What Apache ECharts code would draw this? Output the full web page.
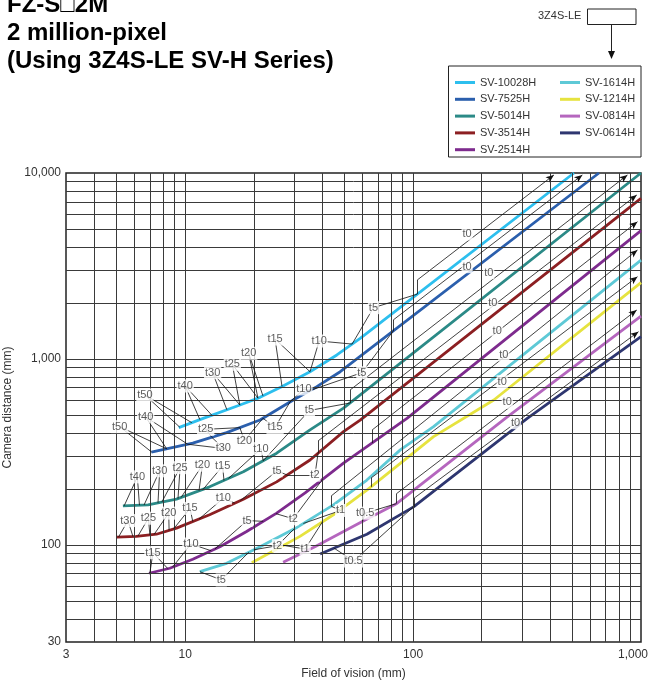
<!DOCTYPE html>
<html><head><meta charset="utf-8">
<script src="https://cdn.jsdelivr.net/npm/echarts@6/dist/echarts.min.js"></script>
<style>html,body{margin:0;padding:0;background:#fff}#c{width:649px;height:682px}</style>
</head><body><div id="c"></div>
<script>
// ---- data (field of vision mm, camera distance mm) ----
const lensNames = ['SV-10028H','SV-7525H','SV-5014H','SV-3514H','SV-2514H','SV-1614H','SV-1214H','SV-0814H','SV-0614H'];
const lensColors = ['#2dbfee','#2b5fad','#2b8a87','#8c1f22','#7e2b8e','#5ec9d6','#e6e33f','#b566be','#2e3670'];
const sv10028h = [[9.37,427],[12.0,479],[17.4,565],[21.3,621],[26.5,709],[35.3,853],[46.3,1050],[58.6,1291],[508,10000]];
const sv7525h  = [[7.11,315],[10.8,352],[15.2,401],[21.3,469],[29.8,601],[37.8,709],[47.9,853],[654,10000]];
const sv5014h  = [[5.33,162],[6.87,164],[9.16,176],[12.8,205],[18.0,247],[25.2,311],[35.3,415],[49.5,543],[1000,10000]];
const sv3514h  = [[5.02,110],[6.10,111],[7.48,114],[9.16,123],[12.8,145],[18.0,176],[25.2,218],[35.3,286],[49.5,406],[58.6,469],[1000,7300]];
const sv2514h  = [[6.94,70.3],[8.56,74.8],[10.8,83.6],[14.2,97.7],[18.6,118],[25.2,148],[33.6,190],[49.5,275],[94,479],[1000,4900]];
const sv1614h  = [[11.6,71.7],[15.2,79.5],[21.3,97.7],[30.6,123],[44.7,164],[62.7,223],[87.9,324],[123,432],[1000,3400]];
const sv1214h  = [[19.6,80.1],[31.9,111],[44.7,145],[62.7,197],[87.9,274],[123,382],[226,601],[1000,2570]];
const sv0814h  = [[26.9,80.5],[37.1,97.7],[61.6,136],[84.9,167],[254,479],[1000,1700]];
const sv0614h  = [[39.1,89.2],[62.7,114],[100.5,160],[317,479],[1000,1317]];
const lensData = [sv10028h,sv7525h,sv5014h,sv3514h,sv2514h,sv1614h,sv1214h,sv0814h,sv0614h];

// t0 range arrows: [point on curve, bracket start, arrow end]
const t0Ranges = [
  [[104.3,2234],[104.3,2657],[414.7,9755]],
  [[81.8,1413],[81.8,1619],[553,9755]],
  [[52.9,579],[52.9,680],[872,9755]],
  [[38.3,312],[38.3,362],[958,7614]],
  [[66.1,353],[66.1,414.5],[965,5470]],
  [[43.7,162],[43.7,183],[965,3853]],
  [[65.5,205],[65.5,229],[965,2768]],
  [[84.4,167],[84.4,188],[958,1832]],
  [[101.2,160],[101.2,178.5],[975,1401]]
];

// extension tube labels [text, fov, distance, lens index (-1 none), range start fov, range end fov]
const tubeLabels = [
  ['t15',24.8,1279,0,26.6,35.3],['t10',38.7,1248,0,35.3,54.0],['t20',19.0,1072,0,20.86,21.94],
  ['t25',16.1,935,0,17.38,20.86],['t30',13.2,843,0,15.24,17.38],['t40',10.0,715,0,11.6,13.09],
  ['t50',6.66,640,0,9.47,10.69],['t10',33.2,689,1,28.84,35.3],['t5',35.1,528,2,22,52.9],
  ['t40',6.71,487,1,8.30,10.27],['t50',5.16,432,1,7.13,8.30],['t25',12.3,418,1,13.09,17.38],
  ['t15',24.8,428,1,21.94,28.84],['t20',18.2,363,1,17.38,21.94],['t30',14.7,330,1,10.27,13.09],
  ['t10',21.5,329,2,15.5,22],['t40',6.17,232,2,5.4,6.3],['t30',7.73,250,2,6.6,7.6],
  ['t25',9.5,260,2,7.9,9.3],['t20',11.9,268,2,9.6,11.5],['t15',14.6,265,2,12.0,14.8],
  ['t5',25.3,250,3,17.5,28],['t2',37.1,237,3,28,38.3],['t10',14.7,178,3,11.5,16.5],
  ['t30',5.61,135,3,5.1,5.9],['t25',6.9,139,3,6.2,7.0],['t20',8.47,148,3,7.3,8.5],
  ['t15',10.5,157,3,8.9,10.8],['t5',18.7,135,4,13.5,22],['t2',29.8,138,4,25,40],
  ['t1',48.1,153,5,33,43.7],['t10',10.6,101,4,8.8,13],['t15',7.22,90.7,4,7.0,8.4],
  ['t2',25.4,98.9,5,20,30],['t1',33.6,94.9,6,27,40],['t5',14.4,64.7,5,11.6,19],
  ['t0.5',61.6,148,7,60,84.4],['t0.5',54.8,81.8,8,45,100],
  ['t0',172.6,4697,-1,0,0],['t0',172.6,3133,-1,0,0],['t0',214.7,2909,-1,0,0],
  ['t5',67.0,1886,0,54,104.3],['t0',223.6,2006,-1,0,0],['t0',233.9,1418,-1,0,0],
  ['t5',59.6,843,1,35.3,81.8],['t0',250,1050,-1,0,0],['t0',246,754,-1,0,0],
  ['t0',258.8,584,-1,0,0],['t0',281.5,454,-1,0,0]
];

const xGridValues = [4,5,6,7,8,9,10,20,30,40,50,60,70,80,90,100,200,300,400,500,600,700,800,900];
const yGridValues = [40,50,60,70,80,90,100,200,300,400,500,600,700,800,900,1000,2000,3000,4000,5000,6000,7000,8000,9000];
const titleLines = ['FZ-S\u25A12M','2 million-pixel','(Using 3Z4S-LE SV-H Series)'];

function fmt(v){ return String(Math.round(v)).replace(/\B(?=(\d{3})+(?!\d))/g, ','); }
// position on a drawn lens curve (same log-log segments the line series draws)
function onCurve(li, x){
  const d = lensData[li];
  if (x <= d[0][0]) return [d[0][0], d[0][1]];
  for (let k = 0; k < d.length - 1; k++){
    const a = d[k], b = d[k+1];
    if (x >= a[0] && x <= b[0]){
      const t = (Math.log(x) - Math.log(a[0])) / (Math.log(b[0]) - Math.log(a[0]));
      return [x, Math.exp(Math.log(a[1]) + t * (Math.log(b[1]) - Math.log(a[1])))];
    }
  }
  const e = d[d.length-1]; return [e[0], e[1]];
}

const chart = echarts.init(document.getElementById('c'), null, {renderer:'canvas'});
const FONT = 'Liberation Sans, Arial, sans-serif';

const series = [];
series.push({
  name:'grid', type:'line', data:[], silent:true, z:1,
  markLine:{silent:true, symbol:['none','none'], animation:false, label:{show:false},
    lineStyle:{color:'#3a3a3a', width:1, type:'solid'}, emphasis:{disabled:true},
    data: xGridValues.map(v=>({xAxis:v})).concat(yGridValues.map(v=>({yAxis:v})))
  }
});
lensNames.forEach((n,i)=>{
  series.push({name:n, type:'line', data:lensData[i], showSymbol:false, symbol:'none', z:3,
    lineStyle:{color:lensColors[i], width:2.8}, itemStyle:{color:lensColors[i]},
    emphasis:{disabled:true}, silent:true});
});
const annotData = [];
t0Ranges.forEach(r=>{
  annotData.push([{coord:r[0]},{coord:r[1]}]);
  annotData.push([{coord:r[1]},{coord:r[2], symbol:'arrow', symbolSize:[5,8]}]);
});
tubeLabels.forEach(t=>{
  if (t[3] < 0) return;
  annotData.push([{coord:[t[1],t[2]]},{coord:onCurve(t[3], t[4])}]);
  annotData.push([{coord:[t[1],t[2]]},{coord:onCurve(t[3], t[5])}]);
});
series.push({
  name:'ranges', type:'line', data:[], silent:true, z:2,
  markLine:{silent:true, symbol:['none','none'], animation:false, label:{show:false},
    lineStyle:{color:'#111', width:0.8, type:'solid'}, emphasis:{disabled:true},
    data: annotData
  }
});
series.push({
  name:'labels', type:'scatter', z:6, silent:true, symbolSize:1,
  itemStyle:{color:'rgba(0,0,0,0)'},
  data: tubeLabels.map(t=>({name:t[0], value:[t[1],t[2]]})),
  label:{show:true, position:'inside', formatter:'{b}', color:'#333', fontSize:11,
    fontFamily:FONT, backgroundColor:'#fff', padding:[1,1]},
  emphasis:{disabled:true}
});

const option = {
  animation:false,
  backgroundColor:'#fff',
  textStyle:{fontFamily:FONT},
  title:{text:titleLines.join('\n'), left:2, top:-14,
    textStyle:{fontSize:24, fontWeight:'bold', color:'#000', lineHeight:28, fontFamily:FONT}},
  legend:[
    {data:lensNames.slice(0,5), orient:'vertical', left:450, top:70.5, itemGap:2.8, itemWidth:20, itemHeight:3, icon:'rect', selectedMode:false,
     textStyle:{fontSize:11, color:'#333', lineHeight:14}},
    {data:lensNames.slice(5), orient:'vertical', left:555, top:70.5, itemGap:2.8, itemWidth:20, itemHeight:3, icon:'rect', selectedMode:false,
     textStyle:{fontSize:11, color:'#333', lineHeight:14}}
  ],
  grid:{left:66, right:8, top:173, bottom:40, show:true, borderColor:'#222', borderWidth:1.5, backgroundColor:'transparent', containLabel:false, outerBoundsMode:'none'},
  xAxis:{type:'log', logBase:10, min:3, max:1000,
    name:'Field of vision (mm)', nameLocation:'middle', nameGap:26,
    nameTextStyle:{fontSize:12, color:'#333'},
    axisLine:{show:false}, axisTick:{show:false}, splitLine:{show:false}, minorSplitLine:{show:false},
    axisLabel:{fontSize:12, color:'#333', margin:7,
      formatter:v=> v >= 999 ? '{r|' + fmt(v) + '}' : fmt(v),
      rich:{r:{fontSize:12, color:'#333', padding:[0,16,0,0]}}}},
  yAxis:{type:'log', logBase:10, min:30, max:10000,
    name:'Camera distance (mm)', nameLocation:'middle', nameGap:46,
    nameTextStyle:{fontSize:12, color:'#333'},
    axisLine:{show:false}, axisTick:{show:false}, splitLine:{show:false}, minorSplitLine:{show:false},
    axisLabel:{fontSize:12, color:'#333', margin:5, formatter:v=>fmt(v)}},
  graphic:[
    {type:'text', left:538, top:10, style:{text:'3Z4S-LE', fontSize:11, fill:'#333', fontFamily:FONT}},
    {type:'rect', shape:{x:587.5, y:9, width:48.5, height:15.5}, style:{fill:'#fff', stroke:'#222', lineWidth:1}},
    {type:'line', shape:{x1:611.5, y1:24.5, x2:611.5, y2:53}, style:{stroke:'#222', lineWidth:1}},
    {type:'polygon', shape:{points:[[608,51],[615,51],[611.5,59]]}, style:{fill:'#111'}},
    {type:'rect', z:-1, shape:{x:448.5, y:66, width:192.5, height:91}, style:{fill:'#fff', stroke:'#222', lineWidth:1}}
  ],
  series: series
};
chart.setOption(option);
</script></body></html>
